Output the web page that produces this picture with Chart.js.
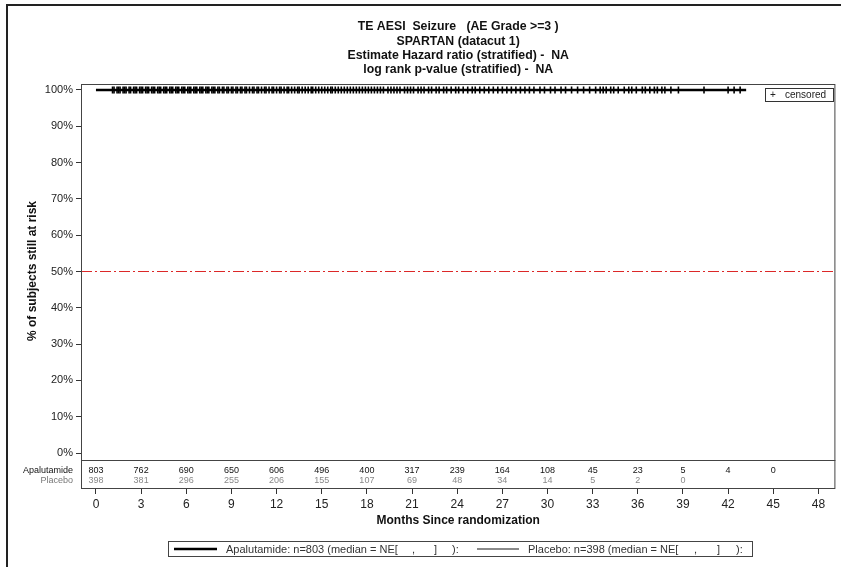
<!DOCTYPE html>
<html>
<head>
<meta charset="utf-8">
<script src="https://cdn.jsdelivr.net/npm/chart.js@4/dist/chart.umd.min.js"></script>
<style>
  html, body { margin: 0; padding: 0; background: #ffffff; }
  #wrap { width: 841px; height: 567px; position: relative; }
</style>
</head>
<body>
<div id="wrap"><canvas id="km" width="841" height="567"></canvas></div>
<script>
// Kaplan-Meier: TE AESI Seizure (AE Grade >= 3), SPARTAN datacut 1
const titleLines = [
  'TE AESI  Seizure   (AE Grade >=3 )',
  'SPARTAN (datacut 1)',
  'Estimate Hazard ratio (stratified) -  NA',
  'log rank p-value (stratified) -  NA'
];

// survival step curves (% still at risk) – no events, flat at 100%
const apaTimes = [0, 43.2];
const apaSurv = [100, 100];
const plaTimes = [0, 38.6];
const plaSurv = [100, 100];

// censoring times (months)
const censorTimes = [
  1.1,1.2,1.4,1.5,1.6,1.8,1.9,2.0,2.2,2.3,2.5,2.6,2.7,2.9,3.0,3.1,3.3,3.4,3.5,3.7,3.8,3.9,4.1,4.2,4.3,4.5,4.6,4.7,4.9,5.0,
  5.1,5.3,5.4,5.5,5.7,5.8,5.9,6.1,6.2,6.3,6.5,6.6,6.7,6.9,7.0,7.1,7.3,7.4,7.5,7.7,7.8,7.9,8.1,8.2,8.4,8.5,8.7,8.8,9.0,9.1,
  9.3,9.4,9.6,9.7,9.9,10.0,10.2,10.4,10.5,10.7,10.8,11.0,11.2,11.3,11.5,11.7,11.8,12.0,12.2,12.3,12.5,12.7,12.8,13.0,13.2,
  13.4,13.5,13.7,13.9,14.1,14.3,14.4,14.6,14.8,15.0,15.2,15.4,15.6,15.7,15.9,16.1,16.3,16.5,16.7,16.9,17.1,17.3,17.5,17.7,
  17.9,18.1,18.3,18.5,18.7,18.9,19.1,19.4,19.6,19.8,20.0,20.2,20.5,20.7,20.9,21.1,21.4,21.6,21.8,22.1,22.3,22.6,22.8,23.1,
  23.3,23.6,23.9,24.1,24.4,24.7,25.0,25.2,25.5,25.8,26.1,26.4,26.7,27.0,27.3,27.6,27.9,28.2,28.5,28.8,29.1,29.5,29.8,30.2,
  30.5,30.9,31.2,31.6,32.0,32.4,32.8,33.2,33.5,33.7,33.9,34.2,34.4,34.7,35.1,35.4,35.6,35.9,36.3,36.5,36.8,37.1,37.3,37.6,
  37.8,38.2,38.7,40.4,42.0,42.4,42.8
];

// number at risk table
const riskMonths = [0,3,6,9,12,15,18,21,24,27,30,33,36,39,42,45];
const apaAtRisk = [803,762,690,650,606,496,400,317,239,164,108,45,23,5,4,0];
const plaAtRisk = [398,381,296,255,206,155,107,69,48,34,14,5,2,0];

const xTicks = [0,3,6,9,12,15,18,21,24,27,30,33,36,39,42,45,48];
const yTicks = [0,10,20,30,40,50,60,70,80,90,100];
const refLevel = 50;

const FONT = '"Liberation Sans", Arial, Helvetica, sans-serif';

const toPts = (xs, ys) => xs.map((x, i) => ({ x: x, y: ys[i] }));

const decorations = {
  id: 'decorations',
  beforeDraw(chart) {
    const c = chart.ctx;
    c.save();
    c.fillStyle = '#ffffff';
    c.fillRect(0, 0, chart.width, chart.height);
    // page frame
    c.strokeStyle = '#222';
    c.lineWidth = 2;
    c.beginPath();
    c.moveTo(7, 567);
    c.lineTo(7, 5);
    c.lineTo(841, 5);
    c.stroke();
    c.restore();
  },
  beforeDatasetsDraw(chart) {
    const c = chart.ctx;
    const a = chart.chartArea;
    const ys = chart.scales.y;
    c.save();
    // reference line at 50%
    c.strokeStyle = 'rgb(220, 40, 40)';
    c.lineWidth = 1.2;
    c.setLineDash([11, 3, 2, 3]);
    const yr = Math.round(ys.getPixelForValue(refLevel)) + 0.5;
    c.beginPath(); c.moveTo(a.left, yr); c.lineTo(a.right, yr); c.stroke();
    c.setLineDash([]);
    c.restore();
  },
  afterDraw(chart) {
    const c = chart.ctx;
    const a = chart.chartArea;
    const xs = chart.scales.x;
    c.save();
    // frame around plot + risk table
    c.strokeStyle = '#444';
    c.lineWidth = 1;
    c.strokeRect(a.left + 0.5, a.top + 0.5, a.right - a.left - 1, a.bottom - a.top);
    const yDiv = 460.5;
    c.beginPath(); c.moveTo(a.left, yDiv); c.lineTo(a.right, yDiv); c.stroke();

    // titles
    c.fillStyle = '#111';
    c.font = 'bold 12.3px ' + FONT;
    c.textAlign = 'center';
    c.textBaseline = 'middle';
    const cx = (a.left + a.right) / 2;
    titleLines.forEach((t, i) => c.fillText(t, cx, 27 + i * 14.3));

    // y axis title
    c.save();
    c.translate(33, 271);
    c.rotate(-Math.PI / 2);
    c.font = 'bold 12px ' + FONT;
    c.fillText('% of subjects still at risk', 0, 0);
    c.restore();

    // x axis title
    c.font = 'bold 12px ' + FONT;
    c.fillText('Months Since randomization', cx, 521);

    // censored legend
    c.strokeStyle = '#333';
    c.strokeRect(765.5, 88.5, 68, 13);
    c.font = '10px ' + FONT;
    c.fillStyle = '#222';
    c.textAlign = 'left';
    c.fillText('+', 770, 95.5);
    c.fillText('censored', 785, 95.5);

    // number at risk rows
    c.textAlign = 'right';
    c.font = '9px ' + FONT;
    c.fillStyle = '#111';
    c.fillText('Apalutamide', 73, 471);
    c.fillStyle = '#777';
    c.fillText('Placebo', 73, 481);
    c.textAlign = 'center';
    riskMonths.forEach((m, i) => {
      if (i < apaAtRisk.length) {
        c.fillStyle = '#111';
        c.fillText(String(apaAtRisk[i]), xs.getPixelForValue(m), 471);
      }
      if (i < plaAtRisk.length) {
        c.fillStyle = '#888';
        c.fillText(String(plaAtRisk[i]), xs.getPixelForValue(m), 481);
      }
    });

    // bottom legend
    c.strokeStyle = '#444';
    c.lineWidth = 1;
    c.strokeRect(168.5, 541.5, 584, 15);
    c.strokeStyle = '#000';
    c.lineWidth = 2.5;
    c.beginPath(); c.moveTo(174, 549); c.lineTo(217, 549); c.stroke();
    c.strokeStyle = '#8a8a8a';
    c.lineWidth = 2;
    c.beginPath(); c.moveTo(477, 549); c.lineTo(519, 549); c.stroke();
    c.font = '11px ' + FONT;
    c.fillStyle = '#333';
    c.textAlign = 'left';
    c.fillText('Apalutamide: n=803 (median = NE[', 226, 549.5);
    c.fillText(',', 412, 549.5);
    c.fillText(']', 434, 549.5);
    c.fillText('):', 452, 549.5);
    c.fillText('Placebo: n=398 (median = NE[', 528, 549.5);
    c.fillText(',', 694, 549.5);
    c.fillText(']', 717, 549.5);
    c.fillText('):', 736, 549.5);
    c.restore();
  }
};

new Chart(document.getElementById('km'), {
  type: 'scatter',
  data: {
    datasets: [
      {
        label: 'Placebo',
        data: toPts(plaTimes, plaSurv),
        showLine: true,
        stepped: true,
        borderColor: '#8a8a8a',
        borderWidth: 2,
        pointRadius: 0,
        order: 3
      },
      {
        label: 'Apalutamide',
        data: toPts(apaTimes, apaSurv),
        showLine: true,
        stepped: true,
        borderColor: '#000000',
        borderWidth: 2.5,
        pointRadius: 0,
        order: 2
      },
      {
        label: 'censored',
        data: censorTimes.map(t => ({ x: t, y: 100 })),
        showLine: false,
        pointStyle: 'cross',
        pointRadius: 3.5,
        pointBorderColor: '#000',
        pointBorderWidth: 1.6,
        order: 1
      }
    ]
  },
  options: {
    responsive: false,
    animation: false,
    devicePixelRatio: 1,
    layout: { padding: { top: 84, right: 4, left: 0, bottom: 0 } },
    plugins: {
      legend: { display: false },
      title: { display: false },
      tooltip: { enabled: false }
    },
    scales: {
      x: {
        type: 'linear',
        min: -0.995,
        max: 49.13,
        afterBuildTicks(s) { s.ticks = xTicks.map(v => ({ value: v })); },
        afterFit(s) { s.height = 79; },
        grid: { drawOnChartArea: false, drawTicks: true, tickLength: 6, color: '#333' },
        border: { display: false },
        ticks: { color: '#222', font: { family: FONT, size: 12 }, padding: 3, maxRotation: 0, autoSkip: false }
      },
      y: {
        type: 'linear',
        min: -9.64,
        max: 101.65,
        afterBuildTicks(s) { s.ticks = yTicks.map(v => ({ value: v })); },
        afterFit(s) { s.width = 81; },
        grid: { drawOnChartArea: false, drawTicks: true, tickLength: 5, color: '#333' },
        border: { display: false },
        ticks: { color: '#222', font: { family: FONT, size: 11 }, padding: 3, callback: v => v + '%' }
      }
    }
  },
  plugins: [decorations]
});
</script>
</body>
</html>
